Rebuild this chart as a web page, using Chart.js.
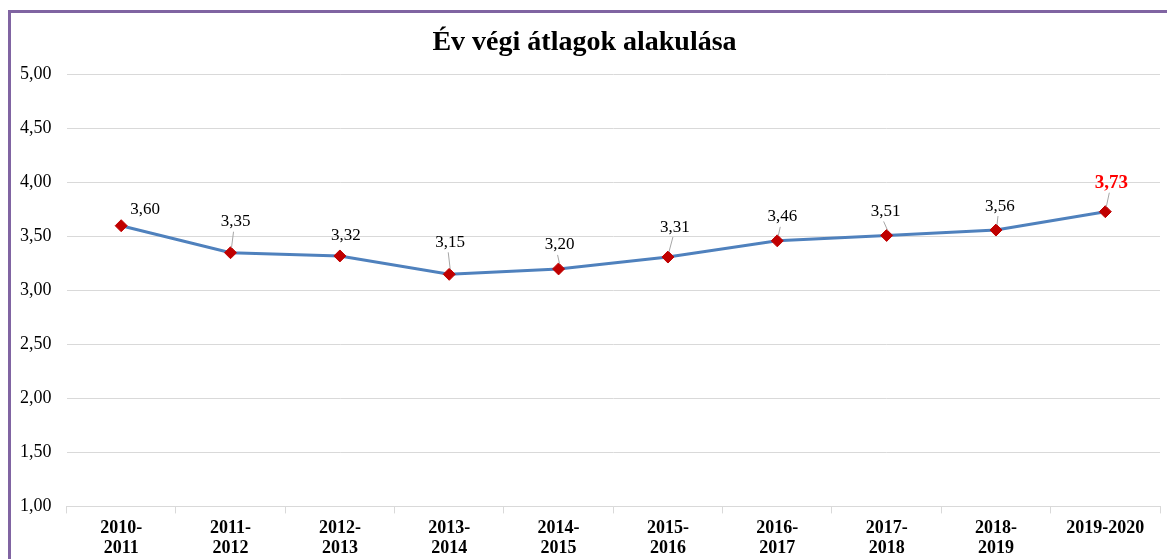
<!DOCTYPE html>
<html>
<head>
<meta charset="utf-8">
<script src="https://cdn.jsdelivr.net/npm/chart.js@4"></script>
<style>
  html, body { margin: 0; padding: 0; background: #fff; }
  #frame { position: absolute; left: 8px; top: 10px; right: -10px; bottom: -10px;
           border-left: 3px solid #8064A2; border-top: 3px solid #8064A2; }
  #wrap { position: absolute; left: 0; top: 0; width: 1167px; height: 559px; }
</style>
</head>
<body>
<div id="frame"></div>
<div id="wrap"><canvas id="myChart"></canvas></div>
<script>
const years = [
    ["2010-", "2011"], ["2011-", "2012"], ["2012-", "2013"], ["2013-", "2014"],
    ["2014-", "2015"], ["2015-", "2016"], ["2016-", "2017"], ["2017-", "2018"],
    ["2018-", "2019"], "2019-2020"
];
const averages = [3.60, 3.35, 3.32, 3.15, 3.20, 3.31, 3.46, 3.51, 3.56, 3.73];
const yMin = 1;
const yMax = 5;
const yStep = 0.5;

// label offsets (px) from each point, like the hand placed labels in the sheet
const labelShift = [[24, -16], [5, -31], [6, -20], [1, -32], [1, -24],
                    [7, -30], [5, -24], [-1, -24], [4, -24], [6, -29]];

const fmt = v => v.toFixed(2).replace(".", ",");
const serif = "'Liberation Serif', 'Times New Roman', serif";

const labelPlugin = {
    id: "pointLabels",
    afterDatasetsDraw(chart) {
        const c = chart.ctx;
        const meta = chart.getDatasetMeta(0);
        meta.data.forEach((pt, i) => {
            const [dx, dy] = labelShift[i];
            const last = i === averages.length - 1;
            const lx = pt.x + dx;
            const ly = pt.y + dy;
            c.save();
            // leader line
            if (dy < -20) {
                c.strokeStyle = "#a6a6a6";
                c.lineWidth = 1;
                c.beginPath();
                c.moveTo(pt.x + 1, pt.y - 5);
                c.lineTo(lx - 2, ly + 10);
                c.stroke();
            }
            c.fillStyle = last ? "#FF0000" : "#000";
            c.font = (last ? "bold 19px " : "17px ") + serif;
            c.textAlign = "center";
            c.textBaseline = "middle";
            c.fillText(fmt(averages[i]), lx, ly);
            c.restore();
        });
    }
};

const ctx = document.getElementById("myChart").getContext("2d");
const myChart = new Chart(ctx, {
    type: "line",
    data: {
        labels: years,
        datasets: [{
            label: "Év végi átlag",
            data: averages,
            borderColor: "#4F81BD",
            borderWidth: 3,
            tension: 0,
            pointStyle: "rectRot",
            pointRadius: 6,
            pointBackgroundColor: "#C00000",
            pointBorderColor: "#C00000",
            pointBorderWidth: 1
        }]
    },
    options: {
        responsive: true,
        maintainAspectRatio: false,
        animation: false,
        layout: { padding: { left: 5, right: 3, top: 0, bottom: -4 } },
        plugins: {
            legend: { display: false },
            tooltip: { enabled: false },
            title: {
                display: true,
                text: "Év végi átlagok alakulása",
                color: "#000",
                font: { family: serif, size: 28, weight: "bold" },
                padding: { top: 26, bottom: 15 }
            }
        },
        scales: {
            x: {
                offset: true,
                grid: {
                    offset: true,
                    drawOnChartArea: false,
                    drawTicks: true,
                    tickLength: 7,
                    color: "#d9d9d9"
                },
                border: { color: "#d9d9d9" },
                ticks: {
                    color: "#000",
                    font: { family: serif, size: 18, weight: "bold", lineHeight: 1.1 },
                    padding: 5,
                    maxRotation: 0,
                    autoSkip: false
                }
            },
            y: {
                min: yMin,
                max: yMax,
                grid: { color: "#d9d9d9", drawTicks: false },
                border: { display: false },
                ticks: {
                    stepSize: yStep,
                    color: "#000",
                    font: { family: serif, size: 18 },
                    padding: 15,
                    callback: v => fmt(v)
                }
            }
        }
    },
    plugins: [labelPlugin]
});
</script>
</body>
</html>
